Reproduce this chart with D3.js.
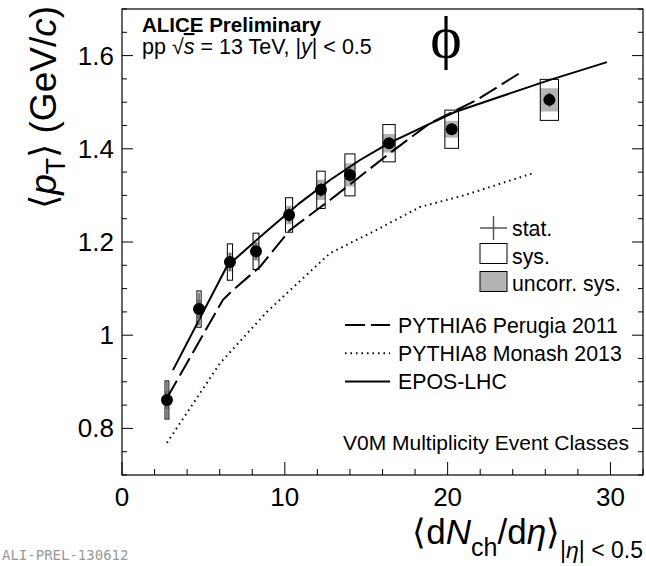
<!DOCTYPE html>
<html>
<head>
<meta charset="utf-8">
<script src="https://cdn.jsdelivr.net/npm/d3@7"></script>
<style>
  body { margin: 0; background: #fff; }
  svg { display: block; font-family: "Liberation Sans", Arial, sans-serif; }
</style>
</head>
<body>
<div id="chart"></div>
<script>
// data: phi meson <pT> vs multiplicity
const dNch    = [2.76, 4.73, 6.63, 8.23, 10.26, 12.22, 14.0, 16.4, 20.25, 26.25];
const meanPt  = [0.861, 1.056, 1.157, 1.180, 1.258, 1.312, 1.344, 1.412, 1.442, 1.505];
const statErr = [0.040, 0.035, 0.020, 0.018, 0.016, 0.015, 0.015, 0.012, 0.012, 0.015];
const sysErr  = [0.041, 0.039, 0.039, 0.039, 0.037, 0.040, 0.045, 0.040, 0.041, 0.044];
const uncErr  = [0.020, 0.020, 0.020, 0.020, 0.020, 0.022, 0.025, 0.020, 0.018, 0.025];
const dNchErr = [0.12, 0.13, 0.16, 0.18, 0.22, 0.26, 0.31, 0.38, 0.42, 0.56];

const eposX   = [3.13, 6.43, 7.35, 8.97, 10.93, 12.78, 14.62, 16.4, 18.73, 20.45, 26.29, 29.79];
const eposY   = [0.925, 1.147, 1.176, 1.226, 1.284, 1.333, 1.376, 1.412, 1.451, 1.479, 1.548, 1.586];
const py6X    = [2.76, 6.2, 6.82, 8.48, 10.32, 12.78, 16.46, 18.92, 21.8, 24.63];
const py6Y    = [0.865, 1.076, 1.097, 1.147, 1.226, 1.290, 1.391, 1.455, 1.505, 1.567];
const py8X    = [2.76, 6.02, 8.9, 12.78, 15.64, 18.3, 21.0, 25.27];
const py8Y    = [0.769, 0.94, 1.05, 1.176, 1.226, 1.275, 1.30, 1.348];

const xTicks = [0, 10, 20, 30];
const yTicks = [0.8, 1, 1.2, 1.4, 1.6];

const W = 646, H = 566;
const margin = {left: 122, right: 3, top: 9, bottom: 91};
const iw = W - margin.left - margin.right;
const ih = H - margin.top - margin.bottom;

const x = d3.scaleLinear().domain([0, 32]).range([0, iw]);
const y = d3.scaleLinear().domain([0.7, 1.7]).range([ih, 0]);

const svg = d3.select("#chart").append("svg")
    .attr("width", W).attr("height", H);

const g = svg.append("g").attr("transform", `translate(${margin.left},${margin.top})`);

// frame
g.append("rect").attr("width", iw).attr("height", ih)
    .attr("fill", "none").attr("stroke", "#000").attr("stroke-width", 1.2);

// ticks inside: bottom, left, right (none on top)
const xMinor = d3.range(0, 32.01, 2);
const yMinor = d3.range(0.7, 1.7001, 0.05);
xMinor.forEach(v => {
    const major = Math.abs(v % 10) < 1e-6;
    const len = major ? 13 : 6;
    g.append("line").attr("x1", x(v)).attr("x2", x(v)).attr("y1", ih).attr("y2", ih - len).attr("stroke", "#000");
});
yMinor.forEach(v => {
    const major = Math.abs(Math.round(v * 100) % 20) < 1e-6;
    const len = major ? 11 : 5;
    g.append("line").attr("y1", y(v)).attr("y2", y(v)).attr("x1", 0).attr("x2", len).attr("stroke", "#000");
    g.append("line").attr("y1", y(v)).attr("y2", y(v)).attr("x1", iw).attr("x2", iw - len).attr("stroke", "#000");
});

// tick labels
g.selectAll(".xl").data(xTicks).join("text")
    .attr("x", d => x(d)).attr("y", ih + 31)
    .attr("text-anchor", "middle").attr("font-size", 26)
    .text(d => d);
g.selectAll(".yl").data(yTicks).join("text")
    .attr("x", -8).attr("y", d => y(d) + 9)
    .attr("text-anchor", "end").attr("font-size", 26)
    .text(d => d);

// systematic boxes
const pts = dNch.map((d, i) => ({x: d, y: meanPt[i], st: statErr[i], sy: sysErr[i], un: uncErr[i], ex: dNchErr[i]}));
g.selectAll(".unc").data(pts).join("rect")
    .attr("x", d => x(d.x - d.ex)).attr("width", d => x(d.x + d.ex) - x(d.x - d.ex))
    .attr("y", d => y(d.y + d.un)).attr("height", d => y(d.y - d.un) - y(d.y + d.un))
    .attr("fill", "#b4b4b4");
g.selectAll(".sys").data(pts).join("rect")
    .attr("x", d => x(d.x - d.ex)).attr("width", d => x(d.x + d.ex) - x(d.x - d.ex))
    .attr("y", d => y(d.y + d.sy)).attr("height", d => y(d.y - d.sy) - y(d.y + d.sy))
    .attr("fill", "none").attr("stroke", "#000").attr("stroke-width", 1);

// model curves
const line = d3.line().x(d => x(d[0])).y(d => y(d[1]));
const models = [
    {xs: py6X, ys: py6Y, dash: "20,6"},
    {xs: py8X, ys: py8Y, dash: "1.5,4"},
    {xs: eposX, ys: eposY, dash: null}
];
models.forEach(m => {
    g.append("path").datum(m.xs.map((v, i) => [v, m.ys[i]]))
        .attr("d", line).attr("fill", "none").attr("stroke", "#000")
        .attr("stroke-width", 2).attr("stroke-dasharray", m.dash);
});

// stat errors and markers
g.selectAll(".st").data(pts).join("line")
    .attr("x1", d => x(d.x)).attr("x2", d => x(d.x))
    .attr("y1", d => y(d.y + d.st)).attr("y2", d => y(d.y - d.st))
    .attr("stroke", "#555").attr("stroke-width", 1.5);
g.selectAll(".mk").data(pts).join("circle")
    .attr("cx", d => x(d.x)).attr("cy", d => y(d.y)).attr("r", 6)
    .attr("fill", "#000");

// header text
svg.append("text").attr("x", 142).attr("y", 32).attr("font-size", 20.5).attr("font-weight", "bold")
    .text("ALICE Preliminary");
const sub = svg.append("text").attr("x", 142).attr("y", 54).attr("font-size", 21.5);
sub.append("tspan").text("pp  ");
sub.append("tspan").text("√");
sub.append("tspan").attr("font-style", "italic").attr("text-decoration", "overline").text("s");
sub.append("tspan").text(" = 13 TeV, |");
sub.append("tspan").attr("font-style", "italic").text("y");
sub.append("tspan").text("| < 0.5");

svg.append("text").attr("x", 446).attr("y", 57).attr("text-anchor", "middle")
    .attr("font-family", "Liberation Serif, serif").attr("font-size", 60)
    .text("ϕ");

// legend: error types
const lg1 = svg.append("g");
lg1.append("line").attr("x1", 480).attr("x2", 507).attr("y1", 228).attr("y2", 228).attr("stroke", "#000");
lg1.append("line").attr("x1", 493.5).attr("x2", 493.5).attr("y1", 216).attr("y2", 240).attr("stroke", "#555").attr("stroke-width", 1.5);
lg1.append("rect").attr("x", 480).attr("y", 243.5).attr("width", 27).attr("height", 20)
    .attr("fill", "#fff").attr("stroke", "#000");
lg1.append("rect").attr("x", 480).attr("y", 271.5).attr("width", 27).attr("height", 20)
    .attr("fill", "#b4b4b4").attr("stroke", "#000");
const lgText1 = ["stat.", "sys.", "uncorr. sys."];
lgText1.forEach((t, i) => {
    lg1.append("text").attr("x", 512).attr("y", 236 + i * 27.5).attr("font-size", 21.3).text(t);
});

// legend: models
const modelNames = ["PYTHIA6 Perugia 2011", "PYTHIA8 Monash 2013", "EPOS-LHC"];
modelNames.forEach((t, i) => {
    const yy = 325 + i * 28.3;
    svg.append("line").attr("x1", 345).attr("x2", 390).attr("y1", yy).attr("y2", yy)
        .attr("stroke", "#000").attr("stroke-width", 2).attr("stroke-dasharray", models[i].dash);
    svg.append("text").attr("x", 398).attr("y", yy + 7.5).attr("font-size", 21.3).text(t);
});

svg.append("text").attr("x", 343).attr("y", 449.5).attr("font-size", 21)
    .text("V0M Multiplicity Event Classes");

// axis titles
const yt = svg.append("text").attr("transform", "translate(56,6) rotate(-90)")
    .attr("text-anchor", "end").attr("font-size", 37);
yt.append("tspan").text("⟨");
yt.append("tspan").attr("font-style", "italic").text("p");
yt.append("tspan").attr("font-size", 27).attr("dy", 9).text("T");
yt.append("tspan").attr("dy", -9).text("⟩ (GeV/");
yt.append("tspan").attr("font-style", "italic").text("c");
yt.append("tspan").text(")");

const xt = svg.append("text").attr("x", 643).attr("y", 544).attr("text-anchor", "end").attr("font-size", 35);
xt.append("tspan").text("⟨d");
xt.append("tspan").attr("font-style", "italic").text("N");
xt.append("tspan").attr("font-size", 25).attr("dy", 12).text("ch");
xt.append("tspan").attr("dy", -12).text("/d");
xt.append("tspan").attr("font-style", "italic").text("η");
xt.append("tspan").text("⟩");
xt.append("tspan").attr("font-size", 23).attr("dy", 14).text("|");
xt.append("tspan").attr("font-size", 23).attr("font-style", "italic").text("η");
xt.append("tspan").attr("font-size", 23).text("| < 0.5");

svg.append("text").attr("x", 2).attr("y", 560)
    .attr("font-family", "DejaVu Sans Mono, monospace").attr("font-size", 14)
    .attr("fill", "#999").text("ALI-PREL-130612");
</script>
</body>
</html>
